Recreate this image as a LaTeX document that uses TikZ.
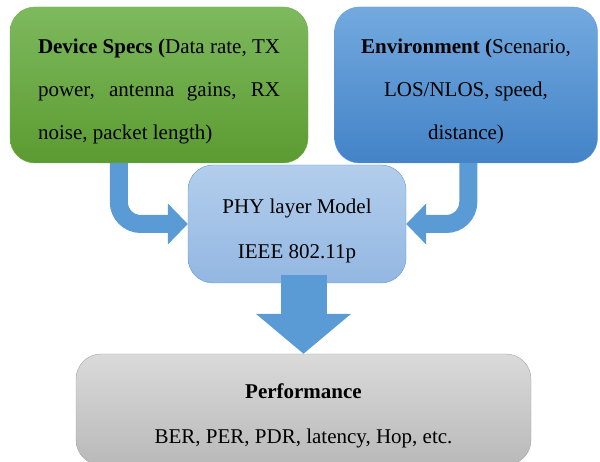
\documentclass[tikz,border=0pt]{standalone}
\usepackage{fontspec}
\setmainfont{Liberation Serif}
\usetikzlibrary{positioning,arrows.meta}
\definecolor{specstop}{HTML}{7DB95E}
\definecolor{specsbot}{HTML}{5C9B31}
\definecolor{specsline}{HTML}{70AD47}
\definecolor{envtop}{HTML}{73A9DF}
\definecolor{envbot}{HTML}{4383C7}
\definecolor{phytop}{HTML}{B3CEEC}
\definecolor{phybot}{HTML}{93B7E2}
\definecolor{perftop}{HTML}{DADADA}
\definecolor{perfbot}{HTML}{B9B9B9}
\definecolor{perfline}{HTML}{A5A5A5}
\definecolor{flowblue}{HTML}{5B9BD5}
% taller first line, pushes the text block down a little
\newcommand*{\padtop}{\rule{0pt}{28pt}}

\begin{document}
\begin{tikzpicture}[x=1pt,y=-1pt]
	\tikzstyle{block}=[rectangle, rounded corners=25pt, inner sep=0pt, thin,
	font=\fontsize{21}{43}\selectfont, text=black]
	\tikzstyle{flow}=[draw=flowblue, line width=18pt, rounded corners=22pt,
	-{Triangle[length=20pt,width=40pt]}]
	\useasboundingbox (0,0) rectangle (600,462);
	\node (Specs) [block, minimum width=298pt, minimum height=156pt, text width=242pt, align=justify,
	top color=specstop, bottom color=specsbot, draw=specsline] at (159,85)
	{\padtop\textbf{Device Specs (}Data rate, TX\linebreak power, antenna gains, RX\linebreak noise, packet length)};
	\node (Env) [block, minimum width=263pt, minimum height=156pt, align=center,
	top color=envtop, bottom color=envbot, draw=flowblue] at (466,85)
	{\padtop\textbf{Environment (}Scenario,\\ LOS/NLOS, speed,\\ distance)};
	\node (Phy) [block, minimum width=218pt, minimum height=118pt, align=center,
	font=\fontsize{21}{45}\selectfont, top color=phytop, bottom color=phybot, draw=flowblue] at (297,224)
	{\padtop PHY layer Model\\ IEEE 802.11p};
	\node (Perf) [block, minimum width=455pt, minimum height=111pt, align=center,
	font=\fontsize{21}{45}\selectfont, top color=perftop, bottom color=perfbot, draw=perfline] at (303.5,409.5)
	{\padtop\textbf{Performance}\\ BER, PER, PDR, latency, Hop, etc.};
	
	\draw[flow] ([xshift=109pt]Specs.south west) |- (Phy.west);
	\draw[flow] ([xshift=134pt]Env.south west) |- (Phy.east);
	\draw[draw=flowblue, line width=46pt, -{Triangle[length=40pt,width=93pt]}]
	([yshift=8pt]Phy.south -| Perf.north) -- (Perf.north);
\end{tikzpicture}
\end{document}
